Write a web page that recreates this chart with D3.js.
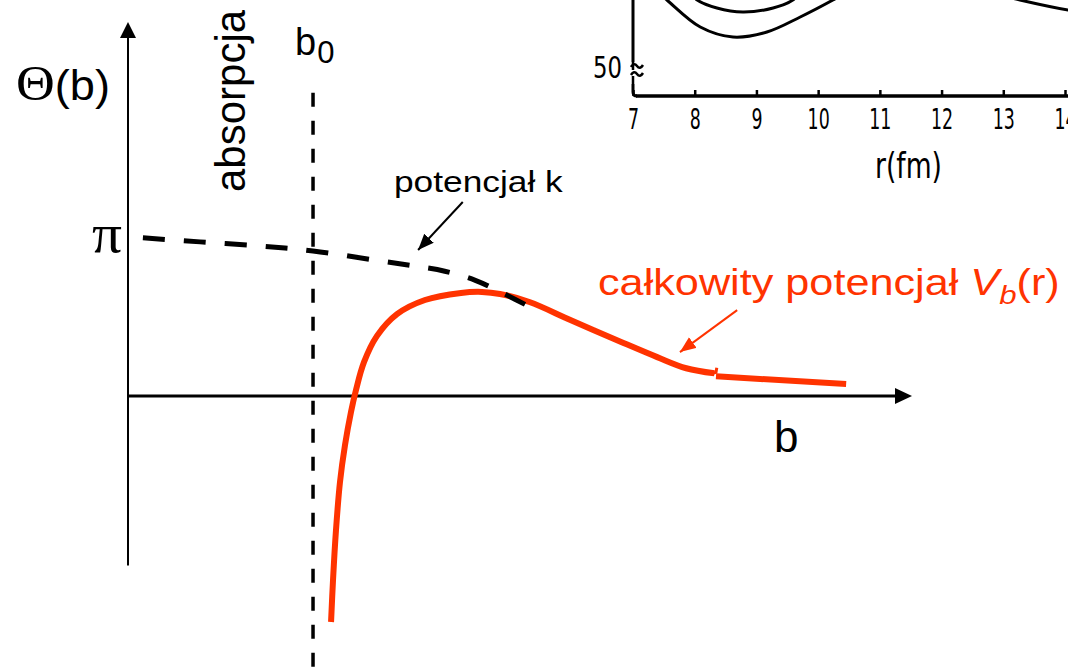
<!DOCTYPE html>
<html>
<head>
<meta charset="utf-8">
<script src="https://cdn.jsdelivr.net/npm/d3@7"></script>
<style>
  html, body { margin: 0; padding: 0; background: #fff; overflow: hidden; }
  svg { display: block; }
</style>
</head>
<body>
<svg id="chart" width="1068" height="669"></svg>
<script>
// Deflection function Θ(b): "potencjał k" (dashed) and the full potential V_b(r) (red)
const potKB     = [0.19, 0.92, 1.68, 2.36, 3.15, 3.67, 4.04, 4.43, 4.75, 5.18];
const potKTheta = [3.13, 3.05, 2.97, 2.87, 2.69, 2.57, 2.47, 2.29, 2.06, 1.72];

const totalB     = [2.59, 2.615, 2.653, 2.704, 2.768, 2.844, 2.908, 3.01, 3.176, 3.431, 3.788, 4.247, 4.515, 4.745, 5.12, 5.65, 6.29, 6.75, 7.12, 7.48];
const totalTheta = [-4.47, -3.64, -2.65, -1.70, -0.97, -0.32, 0.12, 0.67, 1.19, 1.62, 1.90, 2.04, 2.06, 2.02, 1.86, 1.50, 1.07, 0.77, 0.55, 0.45];
const hookB      = [7.46, 7.50, 7.51];
const hookTheta  = [0.45, 0.47, 0.56];
const tailB      = [7.50, 9.16];
const tailTheta  = [0.39, 0.24];

// grazing impact parameter b0 and the extent of its marker line
const b0 = 2.36;
const b0Theta = [6.0, -5.4];

// y-axis tick (Θ = π)
const thetaTicks = [Math.PI];
const thetaTickLabels = ["π"];

// pointer arrows for the two labels, [from, to]
const potKArrowB      = [4.27, 3.70];
const potKArrowTheta  = [3.84, 2.89];
const totalArrowB     = [7.77, 7.04];
const totalArrowTheta = [1.70, 0.87];

// inset: potential contours vs r (fm)
const insetTicks  = [7, 8, 9, 10, 11, 12, 13, 14];
const insetOuterR = [7.36, 7.55, 8.09, 8.62, 9.17, 9.71, 10.24, 10.52];
const insetOuterV = [57.8, 56.8, 54.1, 53.1, 53.6, 55.1, 56.8, 57.8];
const insetInnerR = [7.92, 8.04, 8.36, 8.78, 9.27, 9.59, 9.71];
const insetInnerV = [57.6, 56.8, 56.0, 55.6, 56.0, 56.8, 57.6];
const insetRightR = [12.95, 13.27, 14.05, 14.3];
const insetRightV = [57.3, 56.8, 55.8, 55.6];
const insetYLabel = 50;

const RED = "#ff3300";
const SANS = "'Liberation Sans', Arial, sans-serif";
const SERIF = "'Liberation Serif', 'Times New Roman', serif";
const COND = "'DejaVu Sans', sans-serif";

const svg = d3.select("#chart");

const x = d3.scaleLinear().domain([0, 10]).range([128, 912]);
const y = d3.scaleLinear().domain([-5.4, 7.4]).range([669, 22]);

const zip = (a, b) => a.map((v, i) => [v, b[i]]);
const line = d3.line().x(d => x(d[0])).y(d => y(d[1]));
const smooth = d3.line().x(d => x(d[0])).y(d => y(d[1])).curve(d3.curveCatmullRom.alpha(0.5));

function fitWidth(sel, width) {
  const bb = sel.node().getBBox();
  const sx = width / bb.width;
  sel.attr("transform", `translate(${bb.x},0) scale(${sx},1) translate(${-bb.x},0)`);
}

// arrow heads
const defs = svg.append("defs");
[["arrowBlack", "#000"], ["arrowRed", RED]].forEach(([id, c]) => {
  defs.append("marker")
    .attr("id", id)
    .attr("markerUnits", "userSpaceOnUse")
    .attr("markerWidth", 18).attr("markerHeight", 14)
    .attr("refX", 16).attr("refY", 6.5)
    .attr("orient", "auto")
    .append("path").attr("d", "M0,0 L16,6.5 L0,13 Z").attr("fill", c);
});

// ---- inset: scanned potential plot in the upper right ----
const r = d3.scaleLinear().domain([7, 14]).range([633, 1065]);
const v = d3.scaleLinear().domain([50, 60]).range([68, -32]);
const inset = svg.append("g").attr("class", "inset");
const insetLine = d3.line().x(d => r(d[0])).y(d => v(d[1])).curve(d3.curveCatmullRom.alpha(0.5));

[[insetOuterR, insetOuterV], [insetInnerR, insetInnerV], [insetRightR, insetRightV]].forEach(([rs, vs]) => {
  inset.append("path").attr("d", insetLine(zip(rs, vs)))
    .attr("fill", "none").attr("stroke", "#000").attr("stroke-width", 3).attr("stroke-linecap", "round");
});

const axisY0 = 96;
// vertical axis with a break mark
inset.append("path")
  .attr("d", `M${r(7)},-2 L${r(7)},62 M${r(7)},84 L${r(7)},${axisY0 - 4} Q${r(7)},${axisY0} ${r(7) + 4},${axisY0}`)
  .attr("fill", "none").attr("stroke", "#000").attr("stroke-width", 3);
inset.append("path")
  .attr("d", `M${r(7) - 2},67 q3,-5 6,-1 t6,-1 M${r(7) - 2},75 q3,-5 6,-1 t6,-1 M${r(7)},62 L${r(7)},70 M${r(7)},76 L${r(7)},84`)
  .attr("fill", "none").attr("stroke", "#000").attr("stroke-width", 2.5);

inset.append("line")
  .attr("x1", r(7) + 3).attr("x2", r(14.2)).attr("y1", axisY0).attr("y2", axisY0)
  .attr("stroke", "#000").attr("stroke-width", 3.5);

const rAxis = inset.append("g")
  .attr("transform", `translate(0,${axisY0})`)
  .call(d3.axisBottom(r).tickValues(insetTicks).tickFormat(d3.format("d"))
    .tickSize(-6).tickSizeOuter(0).tickPadding(12));
rAxis.select(".domain").remove();
rAxis.selectAll(".tick line").attr("stroke", "#000").attr("stroke-width", 2.5);
rAxis.selectAll(".tick text")
  .attr("fill", "#000").attr("font-family", COND).attr("font-size", 29)
  .attr("transform", "scale(0.6,1)");

const label50 = inset.append("text")
  .attr("x", 593).attr("y", 78)
  .attr("font-family", COND).attr("font-size", 30).text(insetYLabel);
fitWidth(label50, 29);

const rLabel = inset.append("text")
  .attr("x", 875).attr("y", 178)
  .attr("font-family", COND).attr("font-size", 36).text("r(fm)");
fitWidth(rLabel, 67);

// ---- main diagram ----
// y axis
svg.append("line")
  .attr("x1", x(0)).attr("x2", x(0)).attr("y1", y(-3.35)).attr("y2", y(7.1))
  .attr("stroke", "#000").attr("stroke-width", 2);
svg.append("path")
  .attr("d", `M${x(0)},${y(7.4)} L${x(0) - 8},${y(7.4) + 16} L${x(0) + 8},${y(7.4) + 16} Z`)
  .attr("fill", "#000");

// x axis
svg.append("line")
  .attr("x1", x(0)).attr("x2", x(10) - 14).attr("y1", y(0)).attr("y2", y(0))
  .attr("stroke", "#000").attr("stroke-width", 3);
svg.append("path")
  .attr("d", `M${x(10)},${y(0)} L${x(10) - 17},${y(0) - 8} L${x(10) - 17},${y(0) + 8} Z`)
  .attr("fill", "#000");

// π tick label
const yAxis = svg.append("g")
  .attr("transform", `translate(${x(0)},0)`)
  .call(d3.axisLeft(y).tickValues(thetaTicks).tickFormat((d, i) => thetaTickLabels[i]).tickSize(0).tickPadding(6));
yAxis.select(".domain").remove();
yAxis.selectAll(".tick text")
  .attr("fill", "#000").attr("font-family", SERIF).attr("font-size", 54).attr("dy", "0.27em")
  .each(function () {
    const t = d3.select(this);
    const bb = this.getBBox();
    const sx = 30 / bb.width;
    const xr = bb.x + bb.width;
    t.attr("transform", `translate(${xr},0) scale(${sx},1) translate(${-xr},0)`);
  });

// b0 marker line
svg.append("path")
  .attr("d", line(b0Theta.map(t => [b0, t])))
  .attr("stroke", "#000").attr("stroke-width", 3.5).attr("stroke-dasharray", "14 14").attr("fill", "none");

// total potential curve
svg.append("path")
  .attr("d", smooth(zip(totalB, totalTheta)))
  .attr("fill", "none").attr("stroke", RED).attr("stroke-width", 6);
svg.append("path")
  .attr("d", line(zip(hookB, hookTheta)))
  .attr("fill", "none").attr("stroke", RED).attr("stroke-width", 3);
svg.append("path")
  .attr("d", line(zip(tailB, tailTheta)))
  .attr("fill", "none").attr("stroke", RED).attr("stroke-width", 6);

// potential k (dashed)
svg.append("path")
  .attr("d", smooth(zip(potKB, potKTheta)))
  .attr("fill", "none").attr("stroke", "#000").attr("stroke-width", 5).attr("stroke-dasharray", "22 19");

// pointer arrows
svg.append("path")
  .attr("d", line(zip(potKArrowB, potKArrowTheta)))
  .attr("stroke", "#000").attr("stroke-width", 2).attr("marker-end", "url(#arrowBlack)");
svg.append("path")
  .attr("d", line(zip(totalArrowB, totalArrowTheta)))
  .attr("stroke", RED).attr("stroke-width", 2).attr("marker-end", "url(#arrowRed)");

// labels
const thetaLabel = svg.append("text").attr("x", 16).attr("y", 100).attr("fill", "#000");
thetaLabel.append("tspan").attr("font-family", SERIF).attr("font-size", 50).text("Θ");
thetaLabel.append("tspan").attr("font-family", SANS).attr("font-size", 42).text("(b)");
fitWidth(thetaLabel, 94);

const b0Label = svg.append("text").attr("x", 295).attr("y", 55).attr("font-family", SANS).attr("fill", "#000");
b0Label.append("tspan").attr("font-size", 38).text("b");
b0Label.append("tspan").attr("font-size", 31).attr("dy", 8).attr("dx", 1).text("0");

svg.append("text")
  .attr("transform", "translate(245,192) rotate(-90)")
  .attr("font-family", SANS).attr("font-size", 42).attr("fill", "#000")
  .text("absorpcja");

const potKLabel = svg.append("text")
  .attr("x", 394).attr("y", 192)
  .attr("font-family", SANS).attr("font-size", 30).attr("fill", "#000")
  .text("potencjał k");
fitWidth(potKLabel, 170);

const totalLabel = svg.append("text")
  .attr("x", 598).attr("y", 295)
  .attr("font-family", SANS).attr("font-size", 36).attr("fill", RED);
totalLabel.append("tspan").text("całkowity potencjał ");
totalLabel.append("tspan").attr("font-style", "italic").text("V");
totalLabel.append("tspan").attr("font-style", "italic").attr("font-size", 26).attr("dy", 9).text("b");
totalLabel.append("tspan").attr("dy", -9).text("(r)");
fitWidth(totalLabel, 462);

svg.append("text")
  .attr("x", 774).attr("y", 452)
  .attr("font-family", SANS).attr("font-size", 44).attr("fill", "#000")
  .text("b");
</script>
</body>
</html>
